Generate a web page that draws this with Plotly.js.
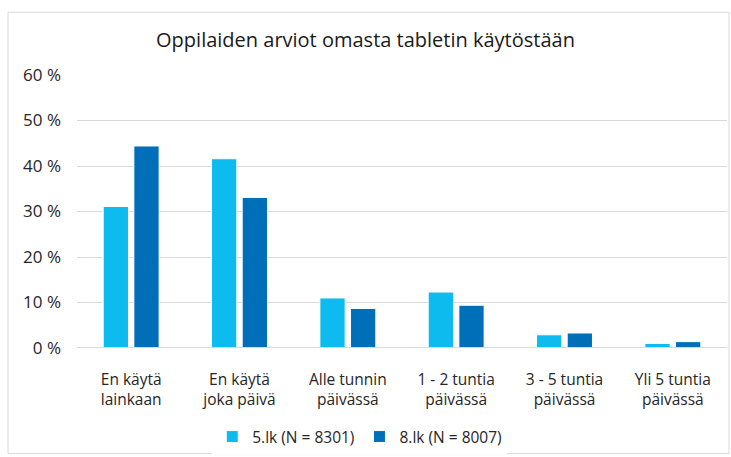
<!DOCTYPE html>
<html><head><meta charset="utf-8">
<script src="https://cdn.plot.ly/plotly-3.0.1.min.js"></script>
<style>html,body{margin:0;padding:0;background:#fff;}#chart{width:731px;height:457px;}</style>
</head><body><div id="chart"></div>
<script>
const categories = ["En käytä<br>lainkaan","En käytä<br>joka päivä","Alle tunnin<br>päivässä","1 - 2 tuntia<br>päivässä","3 - 5 tuntia<br>päivässä","Yli 5 tuntia<br>päivässä"];
const seriesNames = ["5.lk (N = 8301)","8.lk (N = 8007)"];
const grade5 = [31.1, 41.6, 11.0, 12.3, 2.9, 1.0];
const grade8 = [44.4, 33.1, 8.7, 9.4, 3.3, 1.4];
const tickVals = [0,10,20,30,40,50,60];
const tickText = ["0 %","10 %","20 %","30 %","40 %","50 %","60 %"];
const font = "'Open Sans', sans-serif";
const data = [
  {type:"bar", x:categories, y:grade5, name:seriesNames[0], marker:{color:"#0DBBEE", line:{color:"#ffffff", width:1}}, hoverinfo:"y"},
  {type:"bar", x:categories, y:grade8, name:seriesNames[1], marker:{color:"#006FB9", line:{color:"#ffffff", width:1}}, hoverinfo:"y"}
];
const L=77, R=4, T=75, B=108, W=731, H=457;
const pw=W-L-R, ph=H-T-B;
const layout = {
  width:W, height:H,
  margin:{l:L, r:R, t:T, b:B},
  paper_bgcolor:"#fff", plot_bgcolor:"#fff",
  font:{family:font, size:15.5, color:"#262626"},
  title:{text:"Oppilaiden arviot omasta tabletin käytöstään", font:{family:font, size:20, color:"#1a1a1a"}, x:0.5, xanchor:"center", y:1-40/H, yanchor:"middle"},
  barmode:"group", bargap:0.434, bargroupgap:0.175,
  xaxis:{type:"category", showgrid:false, zeroline:false, showline:false, ticks:"", tickfont:{size:15.5, color:"#262626"}, automargin:false, ticklabelstandoff:20},
  yaxis:{range:[0,60], tickvals:tickVals, ticktext:tickText, showgrid:true, gridcolor:"#d9d9d9", gridwidth:1, zeroline:false, showline:false, ticks:"", tickfont:{size:17, color:"#262626"}, automargin:false, ticklabelstandoff:15},
  legend:{orientation:"h", x:0.435, xanchor:"center", y:-(437-349)/ph, yanchor:"middle", font:{size:15.5, color:"#262626"}, itemwidth:30, traceorder:"normal"},
  shapes:[
    {type:"rect", xref:"paper", yref:"paper", x0:(8-L)/pw, x1:(729-L)/pw, y0:-(455-T-ph)/ph, y1:1+(T-12)/ph, line:{color:"#d9d9d9", width:1}, fillcolor:"rgba(0,0,0,0)", layer:"below"},
    {type:"line", xref:"paper", yref:"y", x0:0, x1:1, y0:0, y1:0, line:{color:"#d9d9d9", width:2}}
  ]
};
Plotly.newPlot("chart", data, layout, {displayModeBar:false, staticPlot:true});
</script></body></html>
